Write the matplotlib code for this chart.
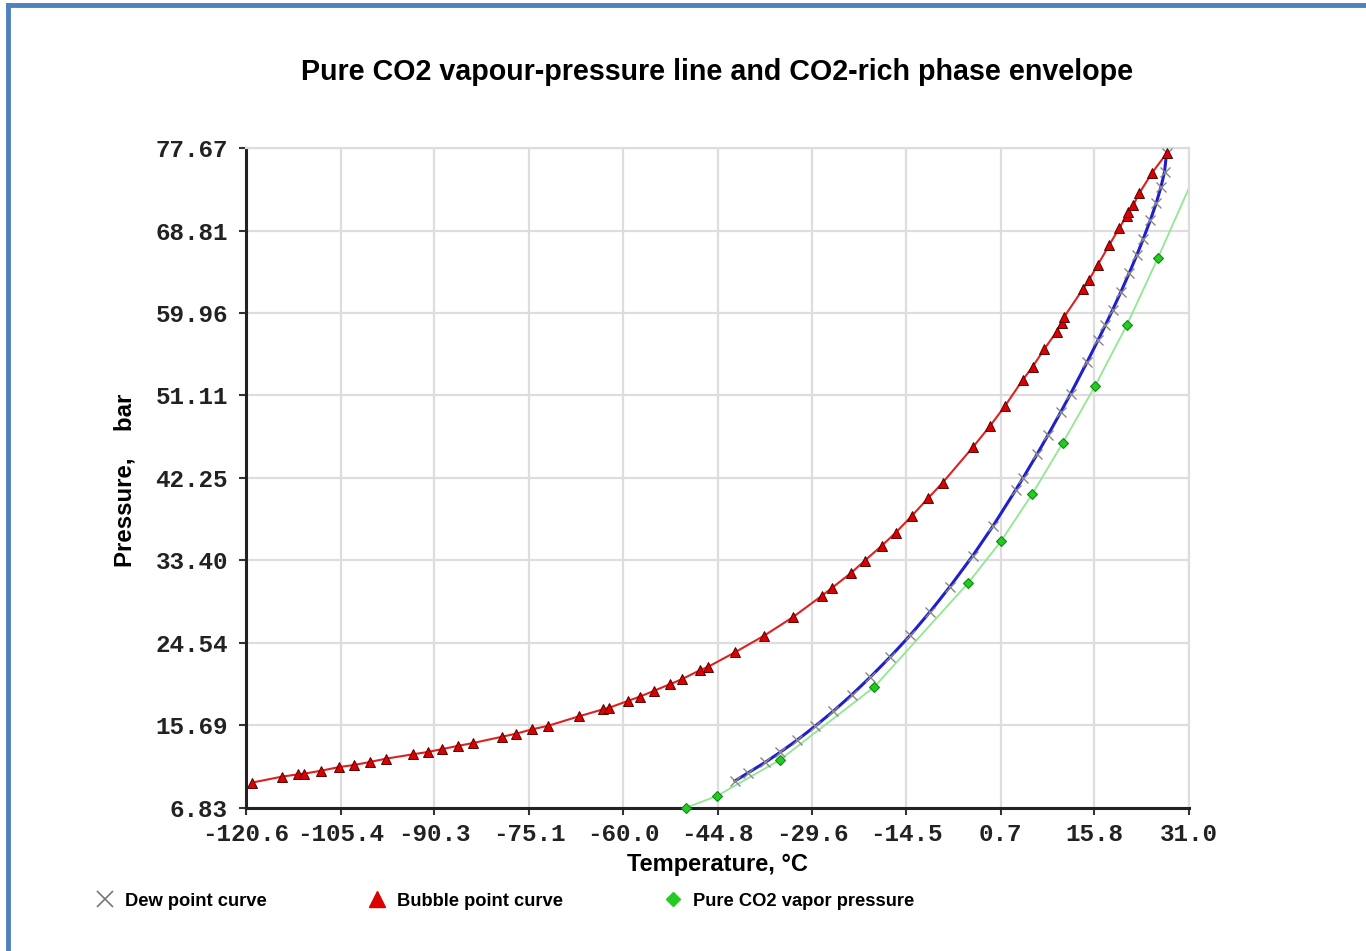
import numpy as np
import matplotlib
matplotlib.use('Agg')
import matplotlib.pyplot as plt
from matplotlib.lines import Line2D

# bubble point curve (temperature degC, pressure bar)
bubble_T = [-119.68, -114.86, -112.19, -111.28, -108.54, -105.60, -103.19, -100.67, -98.14,
            -93.80, -91.39, -89.04, -86.57, -84.06, -79.44, -77.15, -74.57, -72.00, -67.07,
            -63.21, -62.19, -59.24, -57.31, -55.06, -52.48, -50.56, -47.56, -46.38, -41.99,
            -37.32, -32.71, -28.00, -26.34, -23.34, -21.14, -18.40, -16.15, -13.58, -10.96,
            -8.60, -3.68, -0.99, 1.42, 4.26, 5.87, 7.74, 9.73, 10.53, 10.95, 13.91, 14.92,
            16.32, 18.19, 19.75, 20.98, 21.24, 22.05, 23.01, 25.00, 27.41]
bubble_P = [9.55, 10.19, 10.45, 10.51, 10.83, 11.23, 11.45, 11.77, 12.12, 12.59, 12.84, 13.16,
            13.49, 13.81, 14.48, 14.81, 15.28, 15.66, 16.67, 17.42, 17.60, 18.31, 18.78, 19.39,
            20.11, 20.64, 21.64, 21.96, 23.54, 25.32, 27.30, 29.62, 30.48, 32.05, 33.37, 34.98,
            36.38, 38.17, 40.07, 41.75, 45.61, 47.83, 49.98, 52.77, 54.20, 56.10, 57.95, 58.92,
            59.56, 62.50, 63.50, 65.11, 67.26, 69.05, 70.37, 70.83, 71.55, 72.81, 74.95, 77.10]

# dew point curve
dew_T = [-41.99, -39.90, -37.16, -34.75, -32.07, -29.13, -26.18, -23.18, -20.28, -17.07, -13.85,
         -10.64, -7.42, -3.77, -0.46, 3.14, 4.29, 6.60, 8.34, 10.38, 11.95, 14.62, 16.39, 17.57,
         18.71, 20.04, 21.37, 22.62, 23.61, 24.79, 25.72, 26.49, 27.07, 27.39]
dew_P = [9.73, 10.60, 11.72, 12.80, 14.08, 15.60, 17.22, 19.00, 20.85, 23.02, 25.35, 27.88,
         30.60, 33.90, 37.15, 40.96, 42.22, 44.83, 46.87, 49.33, 51.27, 54.70, 57.06, 58.67,
         60.28, 62.21, 64.22, 66.19, 67.85, 69.94, 71.73, 73.48, 75.13, 77.10]

# pure CO2 vapour pressure (markers) and its line end at the axis edge
pure_T = [-49.9, -44.9, -34.8, -19.6, -4.5, 0.8, 5.8, 10.7, 15.9, 21.0, 26.0]
pure_P = [6.85, 8.12, 11.98, 19.82, 30.98, 35.49, 40.53, 46.01, 52.13, 58.67, 65.86]
pure_line_T = pure_T + [31.0]
pure_line_P = pure_P + [73.38]

x_ticks = [-120.6, -105.4, -90.3, -75.1, -60.0, -44.8, -29.6, -14.5, 0.7, 15.8, 31.0]
y_ticks = [6.83, 15.69, 24.54, 33.40, 42.25, 51.11, 59.96, 68.81, 77.67]

fig = plt.figure(figsize=(13.66, 9.51), dpi=100)
ax = fig.add_axes([246/1366, 1-808/951, (1189-246)/1366, (808-148)/951])

ax.plot(pure_line_T, pure_line_P, color='#90e890', lw=1.3, zorder=2)
ax.plot(pure_T, pure_P, ls='none', marker='D', ms=5.5, mfc='#22cc22', mec='#118811', mew=0.8,
        zorder=5, clip_on=False)
ax.plot(dew_T, dew_P, color='#1f1fcc', lw=2.2, zorder=3)
ax.plot(dew_T, dew_P, ls='none', marker='x', ms=7, mec='#888888', mew=1.0, zorder=4)
ax.plot(bubble_T, bubble_P, color='#e02020', lw=1.5, zorder=3)
ax.plot(bubble_T, bubble_P, ls='none', marker='^', ms=7.5, mfc='#dd0000', mec='#550000', mew=0.7,
        zorder=5)

ax.set_xlim(x_ticks[0], x_ticks[-1])
ax.set_ylim(y_ticks[0], y_ticks[-1])
ax.set_xticks(x_ticks)
ax.set_yticks(y_ticks)
ax.set_xticklabels(['%.1f' % v for v in x_ticks])
ax.set_yticklabels(['%.2f' % v for v in y_ticks])
for lab in ax.get_xticklabels() + ax.get_yticklabels():
    lab.set_family('Liberation Mono')
    lab.set_fontweight('bold')
    lab.set_fontsize(17.5)
    lab.set_color('#222222')
ax.tick_params(direction='out', length=5, width=1.5, color='#333333')
ax.tick_params(axis='y', pad=8)
ax.tick_params(axis='x', pad=6)

ax.grid(True, color='#dddddd', lw=1.6)
ax.set_axisbelow(True)
for s in ['top', 'right']:
    ax.spines[s].set_color('#dddddd')
    ax.spines[s].set_linewidth(1.6)
for s in ['left', 'bottom']:
    ax.spines[s].set_color('#222222')
    ax.spines[s].set_linewidth(2.2)

fig.text(717/1366, 1-72/951, 'Pure CO2 vapour-pressure line and CO2-rich phase envelope',
         ha='center', va='center', family='Liberation Sans', fontweight='bold', fontsize=20.6)
fig.text(717/1366, 1-865/951, 'Temperature, \u00b0C', ha='center', va='center',
         family='Liberation Sans', fontweight='bold', fontsize=17)
fig.text(125/1366, 1-480/951, 'Pressure,    bar', ha='center', va='center', rotation=90,
         family='Liberation Sans', fontweight='bold', fontsize=17.3)

handles = [
    Line2D([], [], ls='none', marker='x', ms=11, mec='#777777', mew=1.2),
    Line2D([], [], ls='none', marker='^', ms=11, mfc='#dd0000', mec='#dd0000'),
    Line2D([], [], ls='none', marker='D', ms=7, mfc='#22cc22', mec='#22cc22'),
]
labels = ['Dew point curve', 'Bubble point curve', 'Pure CO2 vapor pressure']
fig.legend(handles, labels, loc='center left', bbox_to_anchor=(96/1366, 1-901/951), ncol=3,
           frameon=False, handlelength=1.0, handletextpad=0.6, columnspacing=5.5,
           prop={'family': 'Liberation Sans', 'weight': 'bold', 'size': 13.2}, borderpad=0,
           borderaxespad=0)

# blue frame around the image
fig.add_artist(Line2D([8/1366, 8/1366], [0, 1-5/951], color='#4f81bd', lw=3.5))
fig.add_artist(Line2D([8/1366, 1], [1-5/951, 1-5/951], color='#4f81bd', lw=3.5))

fig.savefig('out.png', dpi=100)
